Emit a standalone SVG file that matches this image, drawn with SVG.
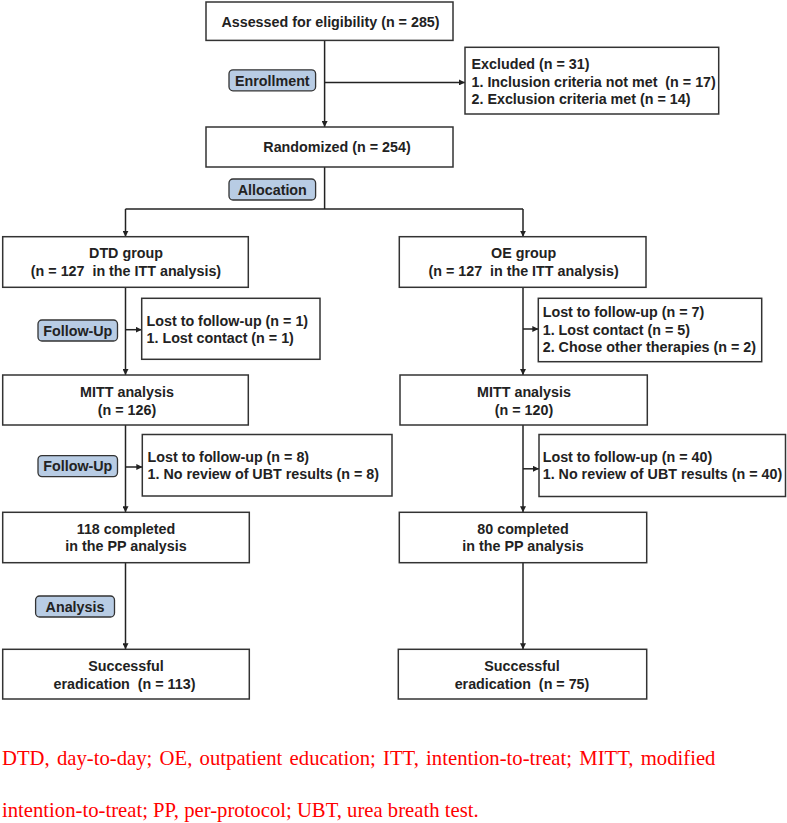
<svg xmlns="http://www.w3.org/2000/svg" width="787" height="823" viewBox="0 0 787 823">
<defs>
<style>
.box{fill:#fff;stroke:#333;stroke-width:1.5}
.badge{fill:#b8cce4;stroke:#333;stroke-width:1.3}
.t{font-family:"Liberation Sans",Arial,sans-serif;font-weight:bold;font-size:14.3px;fill:#222;white-space:pre}
.c{text-anchor:middle}
.ln{fill:none;stroke:#222;stroke-width:1.5}
.foot{font-family:"Liberation Serif","Times New Roman",serif;font-size:20.7px;fill:#ff0000}
</style>
<marker id="ah" viewBox="0 0 10 10" refX="10" refY="5" markerWidth="6" markerHeight="6" markerUnits="userSpaceOnUse" orient="auto">
<path d="M0,0 L10,5 L0,10 z" fill="#222"/>
</marker>
</defs>
<rect width="787" height="823" fill="#fff"/>

<g id="connectors">
<line class="ln" x1="324.6" y1="40.4" x2="324.6" y2="127" marker-end="url(#ah)"/>
<line class="ln" x1="324.6" y1="82.4" x2="465" y2="82.4" marker-end="url(#ah)"/>
<polyline class="ln" points="324.6,167 324.6,209"/>
<polyline class="ln" points="125.5,209 523,209"/>
<line class="ln" x1="125.5" y1="209" x2="125.5" y2="236.7" marker-end="url(#ah)"/>
<line class="ln" x1="523" y1="209" x2="523" y2="236.7" marker-end="url(#ah)"/>
<line class="ln" x1="125.5" y1="287" x2="125.5" y2="375" marker-end="url(#ah)"/>
<line class="ln" x1="125.5" y1="329.7" x2="141.7" y2="329.7" marker-end="url(#ah)"/>
<line class="ln" x1="125.5" y1="425" x2="125.5" y2="512.3" marker-end="url(#ah)"/>
<line class="ln" x1="125.5" y1="467" x2="142.3" y2="467" marker-end="url(#ah)"/>
<line class="ln" x1="125.5" y1="562.7" x2="125.5" y2="649.3" marker-end="url(#ah)"/>
<line class="ln" x1="523" y1="287" x2="523" y2="375" marker-end="url(#ah)"/>
<line class="ln" x1="523" y1="329" x2="538.3" y2="329" marker-end="url(#ah)"/>
<line class="ln" x1="523" y1="425" x2="523" y2="512.3" marker-end="url(#ah)"/>
<line class="ln" x1="523" y1="468.8" x2="539" y2="468.8" marker-end="url(#ah)"/>
<line class="ln" x1="523" y1="562.7" x2="523" y2="649.3" marker-end="url(#ah)"/>
</g>

<g id="assessed">
<rect class="box" x="206" y="2" width="247" height="38.4"/>
<text class="t c" x="330.5" y="27">Assessed for eligibility (n = 285)</text>
</g>
<g id="enrollment">
<rect class="badge" x="229" y="69.8" width="86.6" height="21" rx="4"/>
<text class="t c" x="272.3" y="85.5">Enrollment</text>
</g>
<g id="excluded">
<rect class="box" x="465" y="47.3" width="253.7" height="66.7"/>
<text class="t" x="471.5" y="69.3">Excluded (n = 31)</text>
<text class="t" x="471.5" y="86.7">1. Inclusion criteria not met  (n = 17)</text>
<text class="t" x="471.5" y="104">2. Exclusion criteria met (n = 14)</text>
</g>
<g id="randomized">
<rect class="box" x="206" y="127" width="247" height="40"/>
<text class="t c" x="337" y="151.7">Randomized (n = 254)</text>
</g>
<g id="allocation">
<rect class="badge" x="229" y="179" width="86.6" height="21" rx="4"/>
<text class="t c" x="272.3" y="194.5">Allocation</text>
</g>
<g id="dtd">
<rect class="box" x="2.7" y="236.7" width="245.6" height="50.6"/>
<text class="t c" x="126" y="258.3">DTD group</text>
<text class="t c" x="126" y="276">(n = 127  in the ITT analysis)</text>
</g>
<g id="oe">
<rect class="box" x="399.3" y="236.7" width="246.7" height="50.6"/>
<text class="t c" x="523.6" y="258.3">OE group</text>
<text class="t c" x="523.6" y="276">(n = 127  in the ITT analysis)</text>
</g>
<g id="followup1">
<rect class="badge" x="38" y="320" width="79.5" height="21" rx="4"/>
<text class="t c" x="77.8" y="335.8">Follow-Up</text>
</g>
<g id="lost1">
<rect class="box" x="141.7" y="298.3" width="178.3" height="61"/>
<text class="t" x="146.5" y="326">Lost to follow-up (n = 1)</text>
<text class="t" x="146.5" y="343.3">1. Lost contact (n = 1)</text>
</g>
<g id="lost1oe">
<rect class="box" x="538.3" y="298.3" width="223.4" height="63.4"/>
<text class="t" x="542.7" y="317.3">Lost to follow-up (n = 7)</text>
<text class="t" x="542.7" y="334.7">1. Lost contact (n = 5)</text>
<text class="t" x="542.7" y="352">2. Chose other therapies (n = 2)</text>
</g>
<g id="mitt-dtd">
<rect class="box" x="2.7" y="375" width="245.6" height="50"/>
<text class="t c" x="127" y="397.3">MITT analysis</text>
<text class="t c" x="127" y="414.5">(n = 126)</text>
</g>
<g id="mitt-oe">
<rect class="box" x="400" y="375" width="247.3" height="50"/>
<text class="t c" x="524" y="397.3">MITT analysis</text>
<text class="t c" x="524" y="414.5">(n = 120)</text>
</g>
<g id="followup2">
<rect class="badge" x="38" y="455.6" width="79.5" height="21" rx="4"/>
<text class="t c" x="77.8" y="471.3">Follow-Up</text>
</g>
<g id="lost2">
<rect class="box" x="142.3" y="434.5" width="249.7" height="61.5"/>
<text class="t" x="147.5" y="462.3">Lost to follow-up (n = 8)</text>
<text class="t" x="147.5" y="479.3">1. No review of UBT results (n = 8)</text>
</g>
<g id="lost2oe">
<rect class="box" x="539" y="434.5" width="246.5" height="62"/>
<text class="t" x="542.7" y="462.3">Lost to follow-up (n = 40)</text>
<text class="t" x="542.7" y="479.3">1. No review of UBT results (n = 40)</text>
</g>
<g id="pp-dtd">
<rect class="box" x="2.7" y="512.3" width="246.6" height="50.4"/>
<text class="t c" x="126" y="534.3">118 completed</text>
<text class="t c" x="126" y="551">in the PP analysis</text>
</g>
<g id="pp-oe">
<rect class="box" x="399.3" y="512.3" width="247.4" height="50.4"/>
<text class="t c" x="523" y="534.3">80 completed</text>
<text class="t c" x="523" y="551">in the PP analysis</text>
</g>
<g id="analysis">
<rect class="badge" x="35.6" y="596" width="78.9" height="21" rx="4"/>
<text class="t c" x="75" y="611.6">Analysis</text>
</g>
<g id="success-dtd">
<rect class="box" x="2.7" y="649.3" width="246.6" height="49.7"/>
<text class="t c" x="126" y="670.7">Successful</text>
<text class="t c" x="124.5" y="688.7">eradication  (n = 113)</text>
</g>
<g id="success-oe">
<rect class="box" x="398.3" y="649.3" width="248.4" height="49.7"/>
<text class="t c" x="522" y="670.7">Successful</text>
<text class="t c" x="522" y="688.7">eradication  (n = 75)</text>
</g>

<g id="footnote">
<text class="foot" x="2" y="765" word-spacing="2.1">DTD, day-to-day; OE, outpatient education; ITT, intention-to-treat; MITT, modified</text>
<text class="foot" x="2" y="817">intention-to-treat; PP, per-protocol; UBT, urea breath test.</text>
</g>
</svg>
